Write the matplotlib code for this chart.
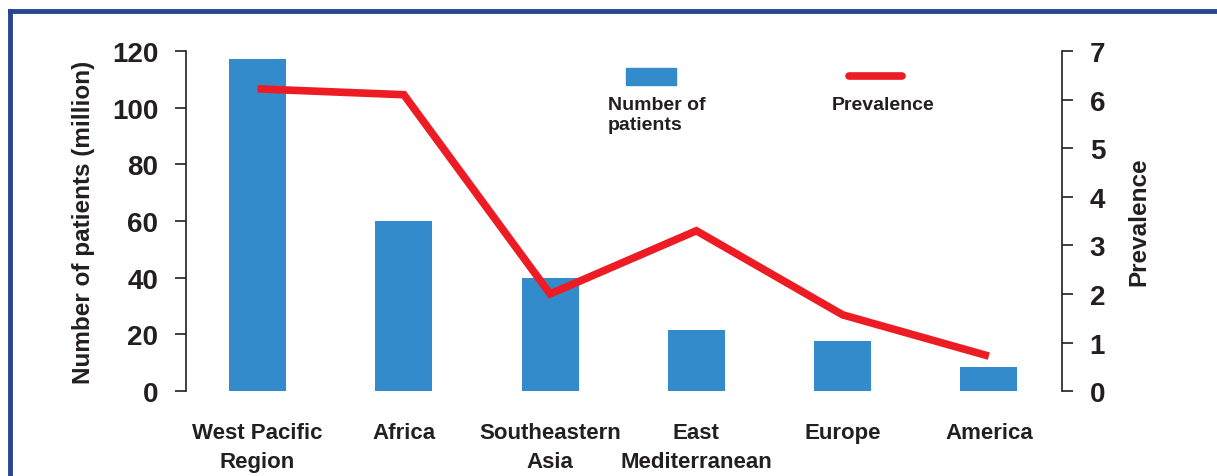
import matplotlib
matplotlib.use('Agg')
import matplotlib.pyplot as plt
from matplotlib.lines import Line2D
from matplotlib.patches import Rectangle
from matplotlib import font_manager

names = {f.name for f in font_manager.fontManager.ttflist}
fam = 'Liberation Sans Narrow' if 'Liberation Sans Narrow' in names else 'Liberation Sans'
plt.rcParams['font.family'] = [fam, 'DejaVu Sans']
plt.rcParams['font.weight'] = 'bold'
plt.rcParams['axes.labelweight'] = 'bold'

regions = ['West Pacific\nRegion', 'Africa', 'Southeastern\nAsia', 'East\nMediterranean', 'Europe', 'America']
patients = [117, 60, 40, 21.5, 17.5, 8.5]
prevalence = [6.22, 6.1, 2.0, 3.3, 1.57, 0.72]

bar_color = '#348bcb'
line_color = '#ed1c24'
text_color = '#231f20'

fig = plt.figure(figsize=(12.17, 4.77), dpi=100)
ax = fig.add_axes([0.1528, 0.178, 0.7198, 0.713])
ax2 = ax.twinx()

x = list(range(len(regions)))
ax.bar(x, patients, width=0.39, color=bar_color, zorder=2)
ax2.plot(x, prevalence, color=line_color, lw=5.5, solid_capstyle='butt', solid_joinstyle='miter', zorder=3)

ax.set_xlim(-0.49, 5.5)
ax.set_ylim(0, 120)
ax2.set_ylim(0, 7)
ax.set_yticks(range(0, 121, 20))
ax2.set_yticks(range(0, 8))

for a in (ax, ax2):
    a.spines['top'].set_visible(False)
    a.spines['bottom'].set_visible(False)
    a.tick_params(axis='y', length=8, width=1.2, color=text_color, labelsize=20, labelcolor=text_color, pad=12)
ax.spines['right'].set_visible(False)
ax2.spines['left'].set_visible(False)
ax.spines['left'].set_linewidth(1.2)
ax2.spines['right'].set_linewidth(1.2)
ax.spines['left'].set_color(text_color)
ax2.spines['right'].set_color(text_color)

ax.set_xticks(x)
ax.set_xticklabels(regions, fontsize=16, color=text_color, linespacing=1.55)
ax.tick_params(axis='x', length=0, pad=22)

ax.set_ylabel('Number of patients (million)', fontsize=17.5, color=text_color, labelpad=12)
ax2.set_ylabel('Prevalence', fontsize=17.5, color=text_color, labelpad=16)

# legend drawn by hand (handle above label)
fig.add_artist(Rectangle((626 / 1217, 1 - 86 / 477), 50 / 1217, 17 / 477, color=bar_color, transform=fig.transFigure))
fig.text(608 / 1217, 1 - 97 / 477, 'Number of\npatients', fontsize=14, color=text_color, va='top', ha='left', linespacing=1.25)
fig.add_artist(Line2D([849 / 1217, 902 / 1217], [1 - 77 / 477] * 2, color=line_color, lw=5.5, solid_capstyle='round', transform=fig.transFigure))
fig.text(832 / 1217, 1 - 97 / 477, 'Prevalence', fontsize=14, color=text_color, va='top', ha='left')

# blue frame
frame = '#2a4590'
fig.add_artist(Line2D([10 / 1217, 1], [1 - 12 / 477] * 2, color=frame, lw=3.5, transform=fig.transFigure))
fig.add_artist(Line2D([10 / 1217] * 2, [1 - 12 / 477, 0], color=frame, lw=3.5, transform=fig.transFigure))

fig.savefig('out.png', dpi=100)
